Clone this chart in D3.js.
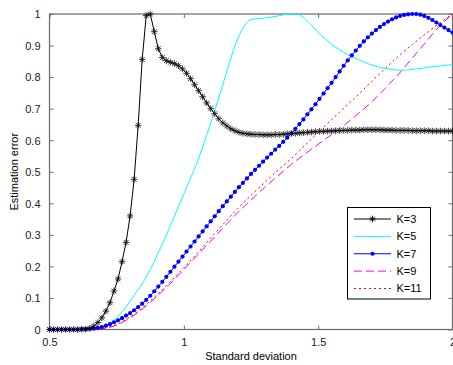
<!DOCTYPE html>
<html><head><meta charset="utf-8">
<script src="https://cdn.jsdelivr.net/npm/d3@7"></script>
<style>
html,body{margin:0;padding:0;background:#fff;}
svg{display:block;font-family:"Liberation Sans",Arial,sans-serif;}
</style></head>
<body>
<svg id="chart" width="453" height="365"></svg>
<script>
// x grid for marker series (0.5 : 0.015 : 2)
const xGrid = d3.range(101).map(i => +(0.5 + 0.015 * i).toFixed(3));

const k3Values = [
 0,0,0,0,0,0,0,0,0.0005,0.001,
 0.004,0.011,0.022,0.037,0.058,0.085,0.122,0.160,0.215,0.276,
 0.360,0.476,0.647,0.856,0.995,1.0,0.944,0.89,0.862,0.852,
 0.847,0.843,0.836,0.826,0.812,0.795,0.776,0.757,0.738,0.718,
 0.700,0.684,0.668,0.655,0.645,0.636,0.630,0.625,0.622,0.620,
 0.619,0.618,0.618,0.617,0.617,0.617,0.618,0.618,0.619,0.620,
 0.621,0.622,0.623,0.624,0.625,0.626,0.627,0.628,0.628,0.629,
 0.629,0.630,0.630,0.631,0.631,0.632,0.632,0.632,0.633,0.633,
 0.633,0.633,0.633,0.632,0.632,0.632,0.631,0.631,0.631,0.631,
 0.630,0.630,0.630,0.630,0.630,0.629,0.629,0.629,0.629,0.629,
 0.629
];

const k7Values = [
 0,0,0,0,0,0,0,0,0.001,0.001,
 0.002,0.003,0.005,0.008,0.012,0.017,0.023,0.029,0.036,0.044,
 0.052,0.061,0.071,0.082,0.094,0.107,0.121,0.136,0.151,0.167,
 0.183,0.199,0.215,0.231,0.247,0.263,0.279,0.295,0.311,0.327,
 0.343,0.359,0.375,0.391,0.406,0.421,0.436,0.451,0.465,0.479,
 0.493,0.506,0.519,0.532,0.545,0.557,0.570,0.582,0.595,0.608,
 0.622,0.636,0.651,0.666,0.682,0.698,0.714,0.731,0.748,0.765,
 0.782,0.800,0.818,0.836,0.853,0.869,0.884,0.899,0.913,0.926,
 0.938,0.949,0.959,0.968,0.976,0.983,0.989,0.994,0.997,0.999,
 1.0,1.0,0.998,0.994,0.988,0.981,0.973,0.965,0.957,0.949,
 0.941
];

const k5X = [0.5,0.6,0.65,0.675,0.7,0.725,0.75,0.775,0.8,0.825,0.85,0.875,0.9,0.925,0.95,0.975,1.0,1.025,1.05,1.075,1.1,1.125,1.15,1.175,1.2,1.225,1.25,1.275,1.3,1.325,1.35,1.375,1.4,1.425,1.45,1.475,1.5,1.525,1.55,1.575,1.6,1.625,1.65,1.675,1.7,1.725,1.75,1.775,1.8,1.825,1.85,1.875,1.9,1.925,1.95,1.975,2.0];
const k5Values = [0,0,0.001,0.004,0.01,0.02,0.038,0.06,0.09,0.12,0.152,0.19,0.235,0.28,0.33,0.38,0.43,0.48,0.53,0.59,0.655,0.72,0.79,0.86,0.92,0.962,0.982,0.986,0.987,0.99,0.994,0.998,1.0,0.999,0.986,0.965,0.942,0.922,0.904,0.889,0.876,0.865,0.855,0.846,0.838,0.832,0.827,0.824,0.822,0.822,0.824,0.827,0.83,0.833,0.835,0.837,0.84];

const lineX = [0.5,0.6,0.65,0.7,0.75,0.8,0.85,0.9,0.95,1.0,1.05,1.1,1.15,1.2,1.25,1.3,1.35,1.4,1.45,1.5,1.55,1.6,1.65,1.7,1.75,1.8,1.85,1.9,1.95,2.0];
const k9Values = [0,0,0,0.003,0.014,0.037,0.068,0.105,0.146,0.19,0.235,0.28,0.326,0.37,0.41,0.45,0.487,0.523,0.556,0.587,0.618,0.65,0.685,0.722,0.765,0.81,0.86,0.91,0.96,1.0];
const k11Values = [0,0,0,0.004,0.016,0.04,0.072,0.11,0.152,0.196,0.242,0.29,0.337,0.383,0.425,0.465,0.505,0.542,0.583,0.625,0.665,0.705,0.745,0.787,0.828,0.867,0.903,0.937,0.97,1.0];

const xTicks = [0.5, 1, 1.5, 2];
const yTicks = [0,0.1,0.2,0.3,0.4,0.5,0.6,0.7,0.8,0.9,1];
const legendLabels = ["K=3","K=5","K=7","K=9","K=11"];

const svg = d3.select("#chart");
const L = 49.5, R = 452.5, T = 14, B = 329.5;
const x = d3.scaleLinear().domain([0.5, 2]).range([L, R]);
const y = d3.scaleLinear().domain([0, 1]).range([B, T]);
const frameColor = "#6a6a6a";
const fontSize = "11px";

// clip
svg.append("defs").append("clipPath").attr("id","clip")
  .append("rect").attr("x",L-4).attr("y",T-4).attr("width",R-L+8).attr("height",B-T+8);

// axes (ticks inward)
const gx = svg.append("g").attr("transform",`translate(0,${B})`)
  .call(d3.axisBottom(x).tickValues(xTicks).tickSizeInner(-4).tickSizeOuter(0).tickPadding(9).tickFormat(d3.format("")));
const gxt = svg.append("g").attr("transform",`translate(0,${T})`)
  .call(d3.axisTop(x).tickValues(xTicks).tickSizeInner(-4).tickSizeOuter(0).tickFormat(""));
const gy = svg.append("g").attr("transform",`translate(${L},0)`)
  .call(d3.axisLeft(y).tickValues(yTicks).tickSizeInner(-4).tickSizeOuter(0).tickPadding(9).tickFormat(d3.format("")));
const gyr = svg.append("g").attr("transform",`translate(${R},0)`)
  .call(d3.axisRight(y).tickValues(yTicks).tickSizeInner(-4).tickSizeOuter(0).tickFormat(""));
[gx,gxt,gy,gyr].forEach(g=>{
  g.select(".domain").remove();
  g.selectAll(".tick line").attr("stroke",frameColor);
  g.selectAll("text").attr("font-size",fontSize).attr("fill","#1a1a1a").attr("font-family","Liberation Sans, Arial, sans-serif");
});
gy.selectAll("text").attr("dy","0.35em");

// frame
svg.append("rect").attr("x",L).attr("y",T).attr("width",R-L).attr("height",B-T)
  .attr("fill","none").attr("stroke",frameColor).attr("stroke-width",1.2);

const plot = svg.append("g").attr("clip-path","url(#clip)");
const line = d3.line().x(d=>x(d[0])).y(d=>y(d[1]));

const k5 = k5X.map((v,i)=>[v,k5Values[i]]);
const k9 = lineX.map((v,i)=>[v,k9Values[i]]);
const k11 = lineX.map((v,i)=>[v,k11Values[i]]);
const k3 = xGrid.map((v,i)=>[v,k3Values[i]]);
const k7 = xGrid.map((v,i)=>[v,k7Values[i]]);

plot.append("path").datum(k9).attr("d",line.curve(d3.curveMonotoneX))
  .attr("fill","none").attr("stroke","#ff00ff").attr("stroke-width",1).attr("stroke-dasharray","8,4");
plot.append("path").datum(k11).attr("d",line.curve(d3.curveMonotoneX))
  .attr("fill","none").attr("stroke","#ff0000").attr("stroke-width",1).attr("stroke-dasharray","2,3");
plot.append("path").datum(k5).attr("d",line.curve(d3.curveMonotoneX))
  .attr("fill","none").attr("stroke","#00ffff").attr("stroke-width",1);
line.curve(d3.curveLinear);
plot.append("path").datum(k7).attr("d",line)
  .attr("fill","none").attr("stroke","#0000ff").attr("stroke-width",1);
plot.selectAll("circle.k7").data(k7).join("circle").attr("class","k7")
  .attr("cx",d=>x(d[0])).attr("cy",d=>y(d[1])).attr("r",2.1).attr("fill","#0000ff");
plot.append("path").datum(k3).attr("d",line)
  .attr("fill","none").attr("stroke","#000").attr("stroke-width",1);

function star(g, cx, cy, s){
  const a = s*0.72;
  g.append("path").attr("d",
    `M${cx-s},${cy}L${cx+s},${cy}M${cx},${cy-s}L${cx},${cy+s}M${cx-a},${cy-a}L${cx+a},${cy+a}M${cx-a},${cy+a}L${cx+a},${cy-a}`)
   .attr("stroke","#000").attr("stroke-width",0.9).attr("fill","none");
}
const starG = plot.append("g").attr("opacity",0.85);
k3.forEach(d=>star(starG, x(d[0]), y(d[1]), 3.3));

// legend
const lg = svg.append("g");
const lx0 = 347.5, ly0 = 207.5, lw = 83, lh = 91.5;
lg.append("rect").attr("x",lx0).attr("y",ly0).attr("width",lw).attr("height",lh)
  .attr("fill","#fff").attr("stroke","#000").attr("stroke-width",1);
const ey = d3.scalePoint().domain(legendLabels).range([219,288.5]);
const styles = {
  "K=3": {c:"#000", dash:null},
  "K=5": {c:"#00ffff", dash:null},
  "K=7": {c:"#0000ff", dash:null},
  "K=9": {c:"#ff00ff", dash:"8,4"},
  "K=11": {c:"#ff0000", dash:"2,3"}
};
legendLabels.forEach(lab=>{
  const yy = ey(lab), st = styles[lab];
  lg.append("line").attr("x1",354).attr("x2",391).attr("y1",yy).attr("y2",yy)
    .attr("stroke",st.c).attr("stroke-width",1).attr("stroke-dasharray",st.dash);
  if(lab==="K=3") star(lg, 372.5, yy, 3.3);
  if(lab==="K=7") lg.append("circle").attr("cx",372.5).attr("cy",yy).attr("r",2.1).attr("fill","#0000ff");
  lg.append("text").attr("x",396.5).attr("y",yy).attr("dy","0.36em")
    .attr("font-size",fontSize).attr("fill","#000").text(lab);
});

// axis labels
svg.append("text").attr("x",(L+R)/2).attr("y",360).attr("text-anchor","middle")
  .attr("font-size",fontSize).attr("fill","#000").text("Standard deviation");
svg.append("text").attr("transform",`translate(18,${(T+B)/2}) rotate(-90)`).attr("text-anchor","middle")
  .attr("font-size",fontSize).attr("fill","#000").text("Estimation error");
</script>
</body></html>
